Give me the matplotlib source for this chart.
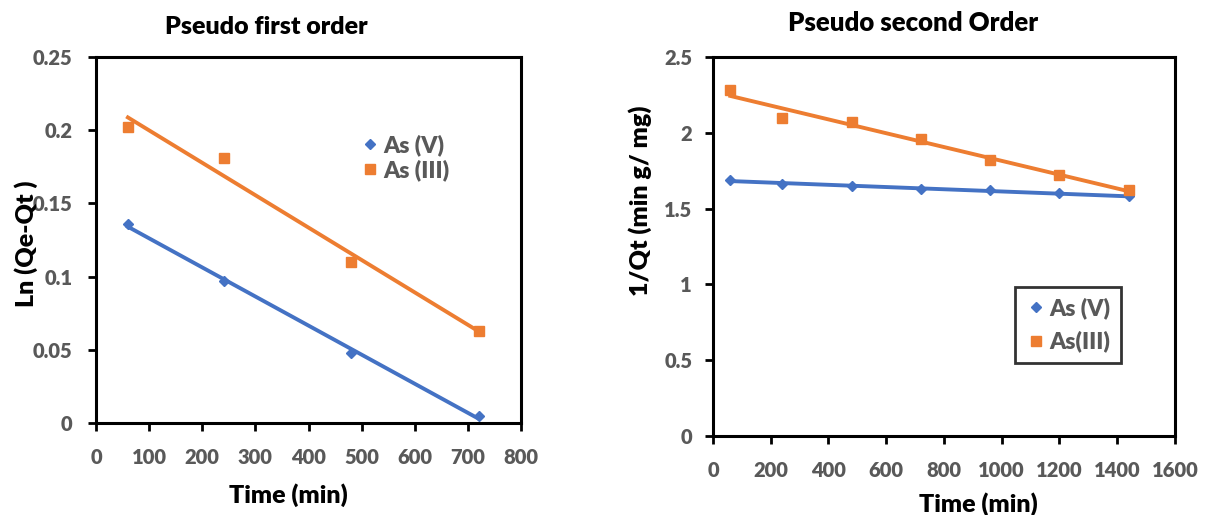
import numpy as np
import matplotlib
matplotlib.use("Agg")
import matplotlib.pyplot as plt

plt.rcParams["font.family"] = ["Lato", "DejaVu Sans"]
plt.rcParams["font.weight"] = "heavy"
plt.rcParams["axes.titleweight"] = "heavy"
plt.rcParams["axes.labelweight"] = "heavy"

BLUE = "#4472C4"
ORANGE = "#ED7D31"
GREY = "#595959"

# pseudo first order: ln(Qe-Qt) vs time
t1 = [60, 240, 480, 720]
ln_v = [0.136, 0.097, 0.048, 0.005]
ln_iii = [0.202, 0.181, 0.110, 0.063]

# pseudo second order: 1/Qt vs time
t2 = [60, 240, 480, 720, 960, 1200, 1440]
inv_v = [1.69, 1.66, 1.65, 1.63, 1.62, 1.60, 1.58]
inv_iii = [2.28, 2.10, 2.07, 1.96, 1.82, 1.72, 1.62]

fig = plt.figure(figsize=(12.05, 5.15), dpi=100)
ax1 = fig.add_axes([0.0797, 0.1786, 0.3527, 0.7107])
ax2 = fig.add_axes([0.5917, 0.1534, 0.3834, 0.7359])


def trend(ax, x, y, color):
    k, b = np.polyfit(x, y, 1)
    xx = np.array([x[0], x[-1]])
    ax.plot(xx, k * xx + b, color=color, lw=2.8, zorder=2)


def style(ax, ypad):
    for s in ax.spines.values():
        s.set_linewidth(2.2)
        s.set_color("black")
    ax.tick_params(direction="out", length=6, width=2, colors="black",
                   labelcolor=GREY, labelsize=14.5)
    ax.tick_params(axis="x", pad=12)
    ax.tick_params(axis="y", pad=ypad)
    for lab in ax.get_xticklabels() + ax.get_yticklabels():
        lab.set_fontweight("heavy")


# left panel
ax1.plot(t1, ln_v, "D", color=BLUE, ms=5.5, label="As (V)", zorder=3)
ax1.plot(t1, ln_iii, "s", color=ORANGE, ms=7.5, label="As (III)", zorder=3)
trend(ax1, t1, ln_v, BLUE)
trend(ax1, t1, ln_iii, ORANGE)
ax1.set_xlim(0, 800)
ax1.set_ylim(0, 0.25)
ax1.set_xticks(range(0, 801, 100))
ax1.set_yticks([0, 0.05, 0.1, 0.15, 0.2, 0.25])
ax1.set_yticklabels(["0", "0.05", "0.1", "0.15", "0.2", "0.25"])
style(ax1, 11)
ax1.text(0.40, 1.082, "Pseudo first order", transform=ax1.transAxes,
         fontsize=18, ha="center", va="center", color="black")
ax1.set_xlabel("Time (min)", fontsize=18, va="center")
ax1.xaxis.set_label_coords(0.452, -0.197)
ax1.set_ylabel("Ln (Qe-Qt )", fontsize=18, va="center")
ax1.yaxis.set_label_coords(-0.165, 0.49)
leg1 = ax1.legend(loc="upper left", bbox_to_anchor=(0.62, 0.79), frameon=False,
                  fontsize=16.5, handletextpad=0.15, handlelength=0.9,
                  labelspacing=0.17, borderpad=0, borderaxespad=0)
for txt in leg1.get_texts():
    txt.set_color(GREY)

# right panel
ax2.plot(t2, inv_v, "D", color=BLUE, ms=5.5, label="As (V)", zorder=3)
ax2.plot(t2, inv_iii, "s", color=ORANGE, ms=7.5, label="As(III)", zorder=3)
trend(ax2, t2, inv_v, BLUE)
trend(ax2, t2, inv_iii, ORANGE)
ax2.set_xlim(0, 1600)
ax2.set_ylim(0, 2.5)
ax2.set_xticks(range(0, 1601, 200))
ax2.set_yticks([0, 0.5, 1, 1.5, 2, 2.5])
ax2.set_yticklabels(["0", "0.5", "1", "1.5", "2", "2.5"])
style(ax2, 9)
ax2.text(0.432, 1.09, "Pseudo second Order", transform=ax2.transAxes,
         fontsize=18.5, ha="center", va="center", color="black")
ax2.set_xlabel("Time (min)", fontsize=18, va="center")
ax2.xaxis.set_label_coords(0.574, -0.18)
ax2.set_ylabel("1/Qt (min g/ mg)", fontsize=18, va="center")
ax2.yaxis.set_label_coords(-0.158, 0.62)
leg2 = ax2.legend(loc="upper left", bbox_to_anchor=(0.654, 0.393), frameon=True,
                  fontsize=16.5, handletextpad=0.15, handlelength=0.9,
                  labelspacing=0.5, fancybox=False, borderpad=0.45,
                  borderaxespad=0)
leg2.get_frame().set_edgecolor("black")
leg2.get_frame().set_linewidth(2)
for txt in leg2.get_texts():
    txt.set_color(GREY)

fig.savefig("out.png", dpi=100)
